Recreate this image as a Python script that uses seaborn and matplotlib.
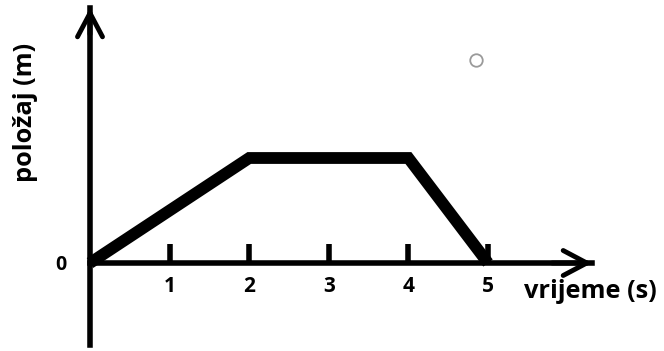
import matplotlib
matplotlib.use("Agg")
import matplotlib.pyplot as plt
import seaborn as sns
import pandas as pd

# Position-time graph data
time_s = [0, 2, 4, 5]
position_m = [0, 2, 2, 0]
tick_values = [1, 2, 3, 4, 5]
tick_labels = ["1", "2", "3", "4", "5"]

df = pd.DataFrame({"vrijeme": time_s, "polozaj": position_m})

sns.set_style("white")
plt.rcParams['font.family'] = ['Open Sans', 'DejaVu Sans']

W, H = 664, 351
fig = plt.figure(figsize=(W / 100, H / 100), dpi=100)
ax = fig.add_axes([0, 0, 1, 1])

# pixel layout of the scanned figure
x0_px, y0_px = 90, 263          # origin
px_per_s, px_per_m = 79.6, 52.5
ax.set_xlim(-x0_px / px_per_s, (W - x0_px) / px_per_s)
ax.set_ylim(-(H - y0_px) / px_per_m, y0_px / px_per_m)

sns.lineplot(data=df, x="vrijeme", y="polozaj", ax=ax, color="black",
             linewidth=8.5, solid_joinstyle="miter", solid_capstyle="butt")

# axes through the origin
for side in ["top", "right"]:
    ax.spines[side].set_visible(False)
for side in ["left", "bottom"]:
    ax.spines[side].set_position(("data", 0))
    ax.spines[side].set_linewidth(4)
    ax.spines[side].set_color("black")
y_top = (y0_px - 8) / px_per_m
y_bot = -(345 - y0_px) / px_per_m
x_end = (592 - x0_px) / px_per_s
ax.spines["left"].set_bounds(y_bot, y_top)
ax.spines["bottom"].set_bounds(0, x_end)

# open arrow heads
arrow = dict(arrowstyle="->,head_length=0.85,head_width=0.45", lw=3.5,
             color="black", mutation_scale=20, shrinkA=0, shrinkB=0)
ax.annotate("", xy=(0, y_top), xytext=(0, y_top - 0.5), arrowprops=arrow)
ax.annotate("", xy=(x_end, 0), xytext=(x_end - 0.5, 0), arrowprops=arrow)

ax.set_xticks(tick_values)
ax.set_xticklabels(tick_labels, fontweight="bold", fontsize=15)
ax.tick_params(axis="x", direction="in", length=14, width=4, pad=9,
               bottom=True, color="black", labelcolor="black")
ax.set_yticks([0])
ax.set_yticklabels(["0"], fontweight="bold", fontsize=14)
ax.tick_params(axis="y", length=0, pad=17, left=True, labelcolor="black")
ax.set_xlabel("")
ax.set_ylabel("")

fig.text(524 / W, 1 - 292 / H, "vrijeme (s)", fontsize=18.3, fontweight="bold",
         ha="left", va="center", color="black")
fig.text(26 / W, 1 - 112 / H, "položaj (m)", fontsize=18.3, fontweight="bold",
         rotation=90, ha="center", va="center", color="black")

# faint scan mark
ax.plot([476 / W], [1 - 60 / H], transform=fig.transFigure, marker="o",
        markersize=9, markerfacecolor="none", markeredgecolor="#9a9a9a",
        markeredgewidth=1.3, linestyle="none", clip_on=False)

fig.savefig("out.png", dpi=100)
